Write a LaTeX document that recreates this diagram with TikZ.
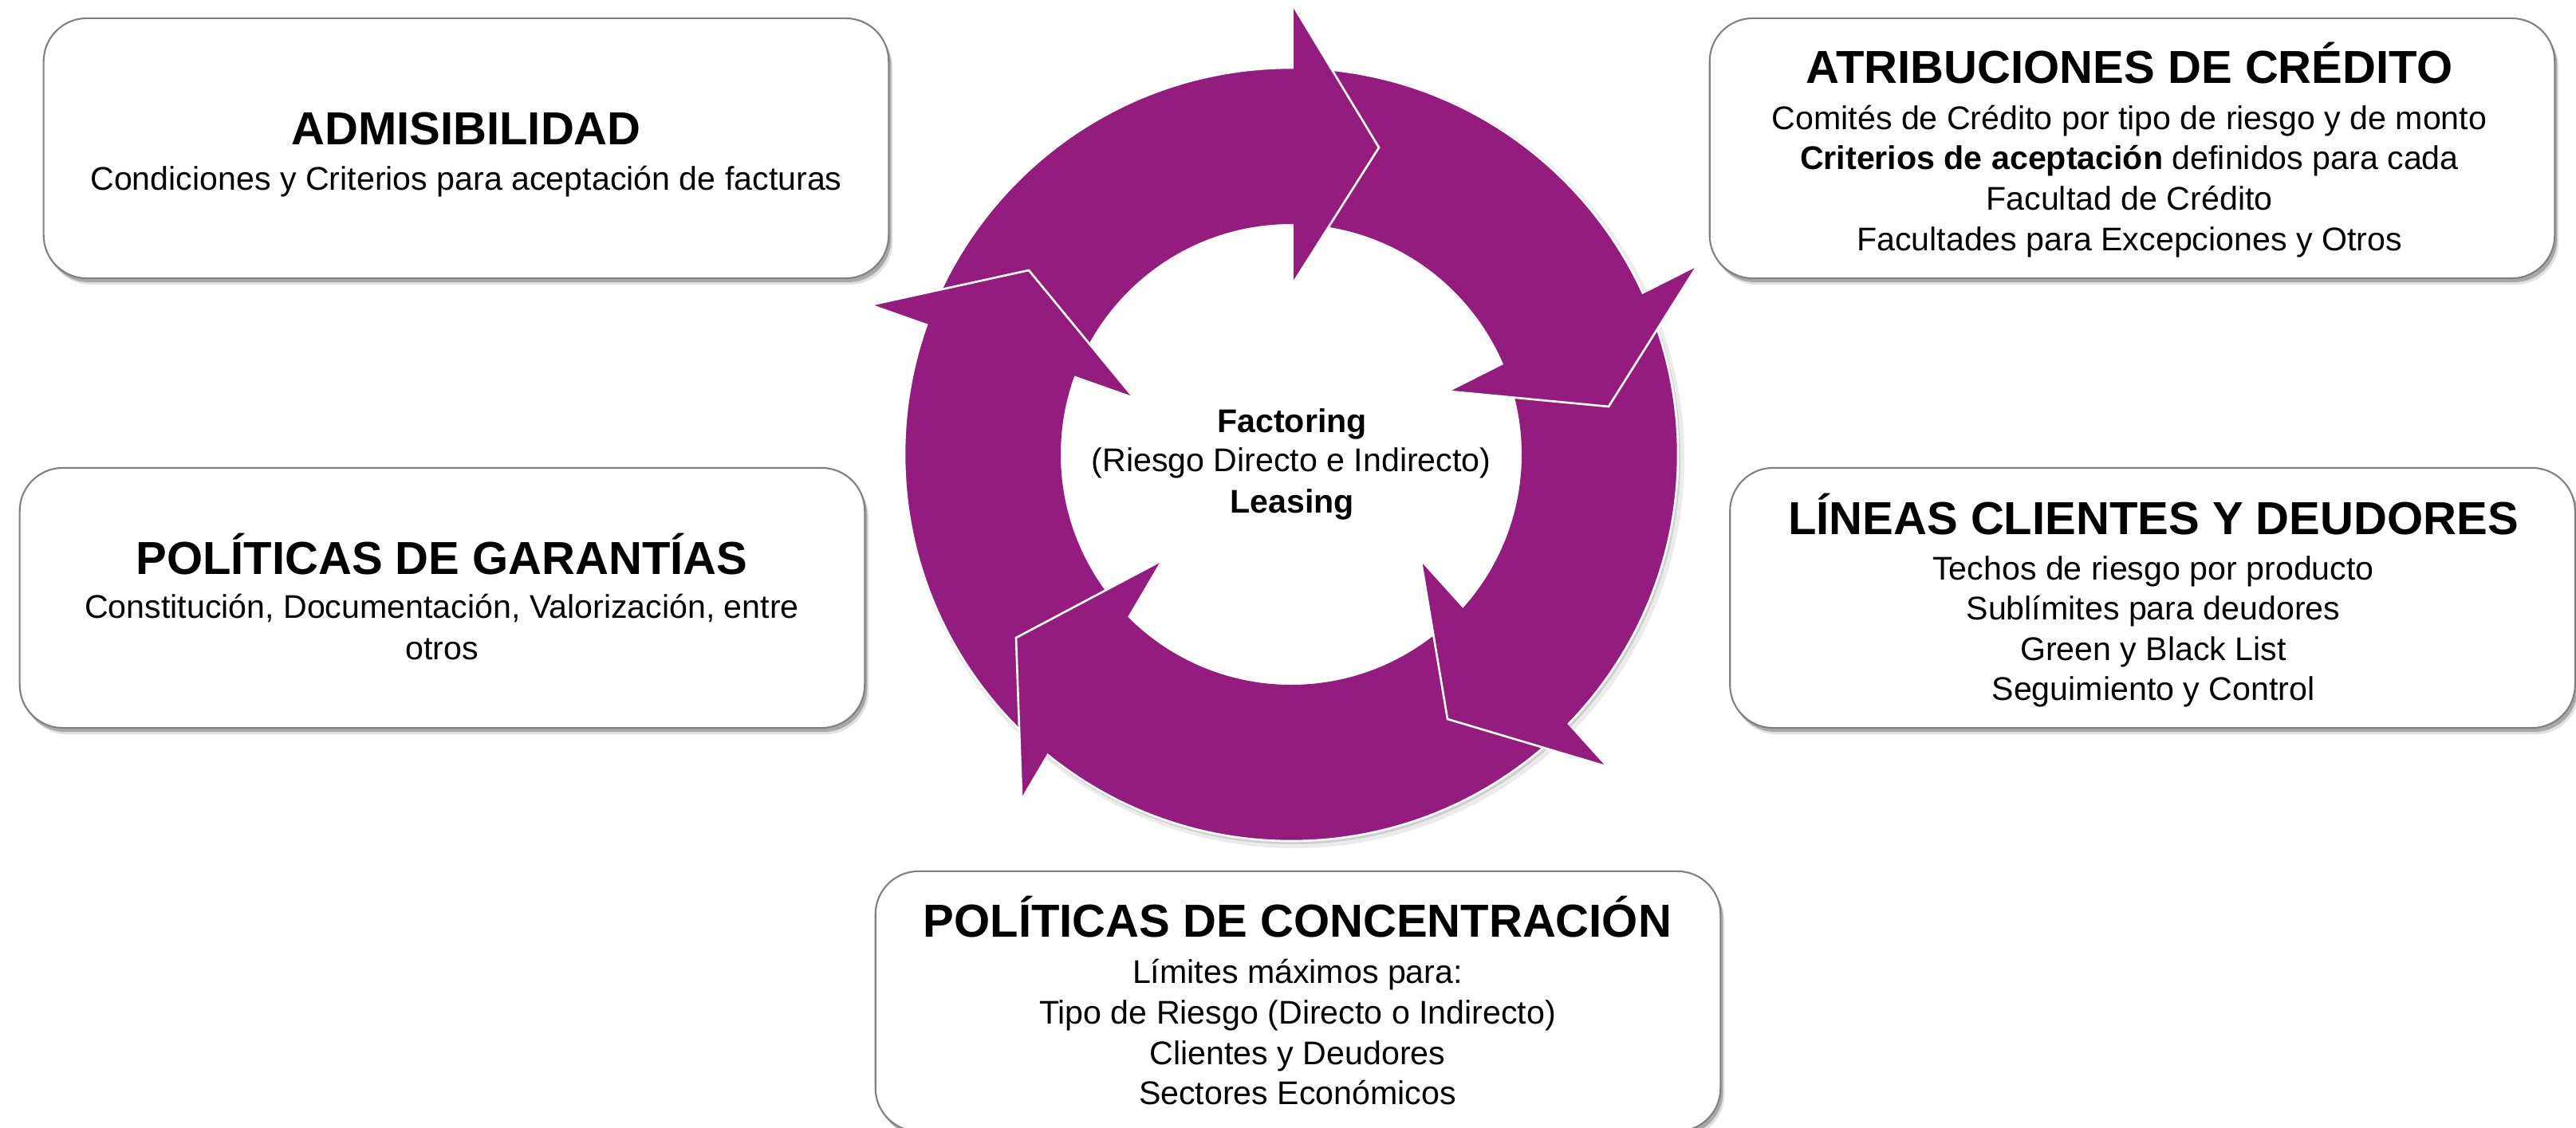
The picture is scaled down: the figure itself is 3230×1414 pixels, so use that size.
\documentclass[tikz,border=0pt]{standalone}
\usepackage{fontspec}
\setmainfont{Liberation Sans}
\usetikzlibrary{calc,shadows}
\definecolor{ringpurple}{RGB}{148,28,126}
\definecolor{boxline}{RGB}{128,128,128}
\begin{document}
\begin{tikzpicture}[x=0.01cm,y=0.01cm,
  card/.style={draw=boxline, line width=0.6pt, fill=white, rounded corners=0.54cm,
    minimum width=10.59cm, minimum height=3.26cm, inner sep=0,
    drop shadow={shadow xshift=0.05cm, shadow yshift=-0.08cm, opacity=0.12, fill=black},
    drop shadow={shadow xshift=0.03cm, shadow yshift=-0.05cm, opacity=0.25, fill=black}},
  ttl/.style={anchor=base, font=\fontsize{16.5}{20}\selectfont\bfseries, inner sep=0},
  txt/.style={anchor=base, font=\fontsize{11.7}{14}\selectfont, inner sep=0},
  txtb/.style={anchor=base, font=\fontsize{11.7}{14}\selectfont\bfseries, inner sep=0},
  arrowhead/.style={fill=ringpurple},
  headedge/.style={draw=white, line width=0.75pt, line join=miter}
]
\useasboundingbox (0,0) rectangle (3230,-1414);
\clip (0,0) rectangle (3230,-1414);

% boxes
\node[card] (A) at (584.5,-186) {};
\node[card] (B) at (2673.5,-186) {};
\node[card] (C) at (554.5,-750) {};
\node[card] (D) at (2699,-750) {};
\node[card] (E) at (1627.5,-1256) {};

% ring
\coordinate (c) at (1619,-570);
\fill[black, opacity=0.08, even odd rule] ($(c)+(4,-5)$) circle (489) (c) circle (300);
\fill[black, opacity=0.12, even odd rule] ($(c)+(2,-3)$) circle (486) (c) circle (300);
\fill[ringpurple, even odd rule] (c) circle (485) (c) circle (289);
\draw[white, line width=0.75pt] (c) circle (485);

% arrowheads: inner barb / outer barb / tip
\foreach \ix/\iy/\ox/\oy/\tx/\ty in {
  1622/354/1622/8/1729/185,
  1818/491/2127/335/2017/510,
  1782/705/2013/961/1815/902,
  1455/704/1281/1000/1274/800,
  1420/497/1094/382/1290/339} {
  \fill[arrowhead] (\ix,-\iy) -- (\ox,-\oy) -- (\tx,-\ty) -- cycle;
  \draw[headedge] (\ox,-\oy) -- (\tx,-\ty) -- (\ix,-\iy);
}

% centre text
\node[txtb] (f1) at (1620,-542) {Factoring};
\node[txt]  (f2) at (1619,-591) {(Riesgo Directo e Indirecto)};
\node[txtb] (f3) at (1620,-643) {Leasing};

% box A
\node[ttl] (at) at (584.5,-181) {ADMISIBILIDAD};
\node[txt] (a1) at (584.5,-238) {Condiciones y Criterios para aceptación de facturas};

% box B
\node[ttl] (bt) at (2670,-104) {ATRIBUCIONES DE CRÉDITO};
\node[txt] (b1) at (2670,-162) {Comités de Crédito por tipo de riesgo y de monto};
\node[txt] (b2) at (2670,-212) {\textbf{Criterios de aceptación} definidos para cada};
\node[txt] (b3) at (2670,-263) {Facultad de Crédito};
\node[txt] (b4) at (2670,-314) {Facultades para Excepciones y Otros};

% box C
\node[ttl] (ct) at (554,-720) {POLÍTICAS DE GARANTÍAS};
\node[txt] (c1) at (554,-775) {Constitución, Documentación, Valorización, entre};
\node[txt] (c2) at (554,-827) {otros};

% box D
\node[ttl] (dt) at (2700,-670) {LÍNEAS CLIENTES Y DEUDORES};
\node[txt] (d1) at (2700,-727) {Techos de riesgo por producto};
\node[txt] (d2) at (2700,-777) {Sublímites para deudores};
\node[txt] (d3) at (2700,-828) {Green y Black List};
\node[txt] (d4) at (2700,-878) {Seguimiento y Control};

% box E
\node[ttl] (et) at (1627,-1175) {POLÍTICAS DE CONCENTRACIÓN};
\node[txt] (e1) at (1627,-1233) {Límites máximos para:};
\node[txt] (e2) at (1627,-1284) {Tipo de Riesgo (Directo o Indirecto)};
\node[txt] (e3) at (1627,-1335) {Clientes y Deudores};
\node[txt] (e4) at (1627,-1385) {Sectores Económicos};
\end{tikzpicture}
\end{document}
